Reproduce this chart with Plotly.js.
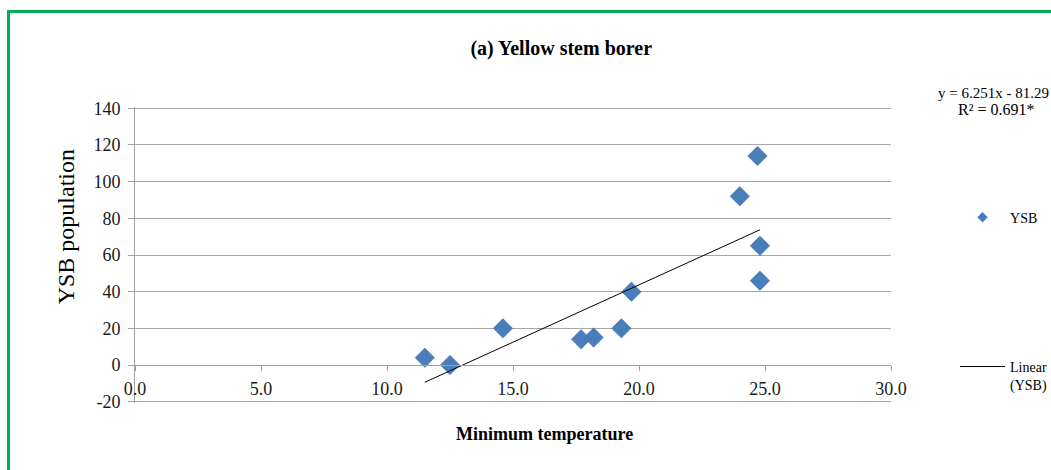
<!DOCTYPE html>
<html>
<head>
<meta charset="utf-8">
<script src="https://cdn.plot.ly/plotly-3.0.1.min.js"></script>
<style>
  html, body { margin: 0; padding: 0; background: #fff; overflow: hidden; }
  #wrap { position: relative; width: 1051px; height: 470px; overflow: hidden; }
  #chart { position: absolute; left: 0; top: 0; width: 1051px; height: 470px; }
  #frame { position: absolute; left: 7px; top: 10px; width: 1100px; height: 520px;
           border: 3px solid #00b050; pointer-events: none; }
</style>
</head>
<body>
<div id="wrap">
  <div id="chart"></div>
  <div id="frame"></div>
</div>
<script>
// Yellow stem borer counts against minimum temperature
const minTemp = [11.5, 12.5, 14.6, 17.7, 18.2, 19.3, 19.7, 24.0, 24.7, 24.8, 24.8];
const ysbPop  = [4, 0, 20, 14, 15, 20, 40, 92, 114, 65, 46];

// Fitted linear trend (as reported in the equation label)
const slope = 6.251;
const intercept = -81.29;
const rSquared = '0.691*';

const xTicks = [0, 5, 10, 15, 20, 25, 30];
const yTicks = [-20, 0, 20, 40, 60, 80, 100, 120, 140];

const xMin = Math.min(...minTemp);
const xMax = Math.max(...minTemp);
const trendX = [xMin, xMax];
const trendY = trendX.map(v => slope * v + intercept);

const serif = 'Liberation Serif, Times New Roman, serif';
const blue = '#4a7ebb';

// padding keeps the gridlines at -20 and 140 from being dropped at the edges
const yRange = [-20.7, 140.7];
const xAxisPos = (0 - yRange[0]) / (yRange[1] - yRange[0]);

const traces = [
  {
    type: 'scatter', mode: 'markers', name: 'YSB',
    x: minTemp, y: ysbPop,
    marker: { symbol: 'diamond', size: 15, color: blue, line: { width: 0.5, color: '#3f6fa8' } },
    showlegend: false, cliponaxis: false
  },
  // legend key for the points, drawn with a smaller diamond
  {
    type: 'scatter', mode: 'markers', name: 'YSB',
    x: [null], y: [null],
    marker: { symbol: 'diamond', size: 8, color: blue },
    legendgroup: 'a'
  },
  {
    type: 'scatter', mode: 'lines', name: 'Linear<br>(YSB)',
    x: trendX, y: trendY,
    line: { color: '#000000', width: 1 },
    legendgroup: 'b'
  }
];

const layout = {
  width: 1051, height: 470,
  margin: { l: 135, r: 160, t: 107, b: 67, autoexpand: false },
  paper_bgcolor: '#ffffff', plot_bgcolor: '#ffffff',
  font: { family: serif, color: '#1a1a1a', size: 17 },
  title: {
    text: '<b>(a) Yellow stem borer</b>',
    font: { family: serif, size: 20, color: '#000' },
    x: 0.534, xref: 'container', xanchor: 'center',
    y: 0.898, yref: 'container', yanchor: 'middle'
  },
  xaxis: {
    range: [0, 30], tickvals: xTicks, tickformat: '.1f',
    showgrid: false, zeroline: false,
    showline: true, linecolor: '#a0a0a0', linewidth: 1,
    ticks: 'outside', ticklen: 5, tickcolor: '#a0a0a0',
    ticklabelstandoff: 2,
    anchor: 'free', position: xAxisPos,
    tickfont: { family: serif, size: 18, color: '#1a1a1a' }
  },
  yaxis: {
    range: yRange, tickvals: yTicks, ticktext: yTicks.map(String),
    showgrid: true, gridcolor: '#a6a6a6', gridwidth: 1,
    zeroline: false,
    showline: true, linecolor: '#a0a0a0', linewidth: 1,
    ticks: 'outside', ticklen: 6, tickcolor: '#a0a0a0',
    ticklabelstandoff: 4,
    tickfont: { family: serif, size: 18, color: '#1a1a1a' }
  },
  showlegend: true,
  legend: {
    x: 1.0847, xanchor: 'left', y: 0.68, yanchor: 'top',
    font: { family: serif, size: 14, color: '#000' },
    itemwidth: 45, tracegroupgap: 128, valign: 'top',
    traceorder: 'grouped', bgcolor: 'rgba(0,0,0,0)'
  },
  annotations: [
    {
      text: 'YSB population',
      xref: 'paper', yref: 'paper', x: -0.092, y: 0.595, textangle: -90,
      xanchor: 'center', yanchor: 'middle', showarrow: false,
      font: { family: serif, size: 24, color: '#000' }
    },
    {
      text: '<b>Minimum temperature</b>',
      xref: 'paper', yref: 'paper', x: 0.542, y: -0.104,
      xanchor: 'center', yanchor: 'middle', showarrow: false,
      font: { family: serif, size: 18, color: '#000' }
    },
    {
      text: 'y = ' + slope + 'x - ' + Math.abs(intercept),
      xref: 'paper', yref: 'paper', x: 1.0595, y: 1.048,
      xanchor: 'left', yanchor: 'middle', showarrow: false,
      font: { family: serif, size: 15, color: '#000' }
    },
    {
      text: 'R\u00b2 = ' + rSquared,
      xref: 'paper', yref: 'paper', x: 1.140, y: 0.993,
      xanchor: 'center', yanchor: 'middle', showarrow: false,
      font: { family: serif, size: 16, color: '#000' }
    }
  ]
};

Plotly.newPlot('chart', traces, layout, { displayModeBar: false, staticPlot: true });
</script>
</body>
</html>
